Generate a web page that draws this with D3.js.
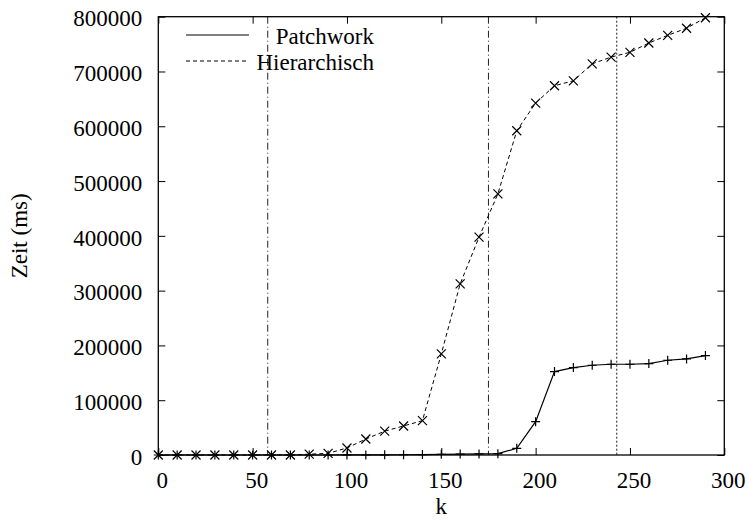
<!DOCTYPE html>
<html>
<head>
<meta charset="utf-8">
<script src="https://cdn.jsdelivr.net/npm/d3@7"></script>
<style>
  body { margin: 0; background: #fff; }
  svg text { font-family: "Liberation Serif", "Times New Roman", Times, "DejaVu Serif", serif; fill: #000; }
</style>
</head>
<body>
<div id="chart"></div>
<script>
var kValues = [0, 10, 20, 30, 40, 50, 60, 70, 80, 90, 100, 110, 120, 130, 140,
               150, 160, 170, 180, 190, 200, 210, 220, 230, 240, 250, 260, 270, 280, 290];
var patchwork = [0, 0, 0, 0, 0, 0, 0, 0, 0, 0, 100, 200, 300, 500, 800,
                 1200, 1600, 2000, 2500, 12200, 60900, 152200, 159500, 163800, 165600, 165600, 166800, 172900, 175300, 181400];
var hierarchisch = [0, 0, 0, 0, 0, 0, 0, 0, 1500, 3000, 12800, 29200, 43500, 53000, 62700,
                    184500, 312300, 397600, 476700, 591800, 642300, 674000, 683000, 714000, 726300, 735000, 752000, 766000, 779000, 798000];
var xTicks = [0, 50, 100, 150, 200, 250, 300];
var yTicks = [0, 100000, 200000, 300000, 400000, 500000, 600000, 700000, 800000];
var markerLines = [58, 175, 243];
var markerDash = ['7,3,1,3', '7,3,1,3', '2,2'];

var width = 748, height = 529;
var margin = {top: 16.7, right: 23.7, bottom: 74, left: 158.3};
var w = width - margin.left - margin.right;
var h = height - margin.top - margin.bottom;
var serif = '"Liberation Serif", "Times New Roman", Times, "DejaVu Serif", serif';

var svg = d3.select('#chart').append('svg')
    .attr('width', width)
    .attr('height', height);

var g = svg.append('g')
    .attr('transform', 'translate(' + margin.left + ',' + margin.top + ')');

var x = d3.scaleLinear().domain([0, 300]).range([0, w]);
var y = d3.scaleLinear().domain([0, 800000]).range([h, 0]);

// ticks inward on all four sides
var tickLen = 7;
g.append('g').attr('class', 'xaxis').attr('transform', 'translate(0,' + h + ')')
    .call(d3.axisBottom(x).tickValues(xTicks).tickSize(-tickLen).tickPadding(17).tickFormat(d3.format('d')))
    .call(function (a) { a.select('.domain').remove(); });
g.append('g')
    .call(d3.axisTop(x).tickValues(xTicks).tickSize(-tickLen).tickFormat(''))
    .call(function (a) { a.select('.domain').remove(); });
g.append('g').attr('class', 'yaxis')
    .call(d3.axisLeft(y).tickValues(yTicks).tickSize(-tickLen).tickPadding(tickLen + 9).tickFormat(d3.format('d')))
    .call(function (a) { a.select('.domain').remove(); });
g.append('g').attr('transform', 'translate(' + w + ',0)')
    .call(d3.axisRight(y).tickValues(yTicks).tickSize(-tickLen).tickFormat(''))
    .call(function (a) { a.select('.domain').remove(); });

g.selectAll('g').attr('font-family', serif);
g.selectAll('.tick line').attr('stroke', '#000').attr('stroke-width', 1);
g.selectAll('.tick text')
    .attr('font-family', serif)
    .attr('font-size', 23)
    .attr('fill', '#000');
g.selectAll('.xaxis .tick text').attr('dx', 3.5);
g.selectAll('.yaxis .tick text').attr('dy', '0.4em');

// vertical marker lines
g.selectAll('.vline').data(markerLines).enter().append('line')
    .attr('class', 'vline')
    .attr('x1', function (d) { return x(d); })
    .attr('x2', function (d) { return x(d); })
    .attr('y1', 0).attr('y2', h)
    .attr('stroke', '#222')
    .attr('stroke-width', 1)
    .attr('stroke-dasharray', function (d, i) { return markerDash[i]; });

var line = d3.line()
    .x(function (d, i) { return x(kValues[i]); })
    .y(function (d) { return y(d); });

g.append('path').datum(hierarchisch)
    .attr('d', line)
    .attr('fill', 'none')
    .attr('stroke', '#000')
    .attr('stroke-width', 1)
    .attr('stroke-dasharray', '4,3');

g.append('path').datum(patchwork)
    .attr('d', line)
    .attr('fill', 'none')
    .attr('stroke', '#000')
    .attr('stroke-width', 1.2);

var s = 4.5;
g.selectAll('.mx').data(hierarchisch).enter().append('path')
    .attr('class', 'mx')
    .attr('transform', function (d, i) { return 'translate(' + x(kValues[i]) + ',' + y(d) + ')'; })
    .attr('d', 'M' + (-s) + ',' + (-s) + 'L' + s + ',' + s + 'M' + (-s) + ',' + s + 'L' + s + ',' + (-s))
    .attr('stroke', '#000')
    .attr('stroke-width', 1.2);

g.selectAll('.mp').data(patchwork).enter().append('path')
    .attr('class', 'mp')
    .attr('transform', function (d, i) { return 'translate(' + x(kValues[i]) + ',' + y(d) + ')'; })
    .attr('d', 'M' + (-s) + ',0L' + s + ',0M0,' + (-s) + 'L0,' + s)
    .attr('stroke', '#000')
    .attr('stroke-width', 1.2);

// frame
g.append('rect')
    .attr('width', w).attr('height', h)
    .attr('fill', 'none')
    .attr('stroke', '#000')
    .attr('stroke-width', 1.3);

// legend
var legend = [{name: 'Patchwork', dash: null}, {name: 'Hierarchisch', dash: '4,3'}];
var lg = svg.selectAll('.leg').data(legend).enter().append('g')
    .attr('class', 'leg')
    .attr('transform', function (d, i) { return 'translate(0,' + (35 + i * 26) + ')'; });
lg.append('line')
    .attr('x1', 186).attr('x2', 249)
    .attr('stroke', '#000')
    .attr('stroke-width', 1)
    .attr('stroke-dasharray', function (d) { return d.dash; });
lg.append('text')
    .attr('x', 374)
    .attr('dy', '0.38em')
    .attr('text-anchor', 'end')
    .attr('font-family', serif)
    .attr('font-size', 23)
    .text(function (d) { return d.name; });

// axis titles
svg.append('text')
    .attr('x', margin.left + w / 2)
    .attr('y', 513.5)
    .attr('text-anchor', 'middle')
    .attr('font-family', serif)
    .attr('font-size', 23)
    .text('k');
svg.append('text')
    .attr('transform', 'translate(27,' + (margin.top + h / 2) + ') rotate(-90)')
    .attr('text-anchor', 'middle')
    .attr('font-family', serif)
    .attr('font-size', 23)
    .text('Zeit (ms)');
</script>
</body>
</html>
